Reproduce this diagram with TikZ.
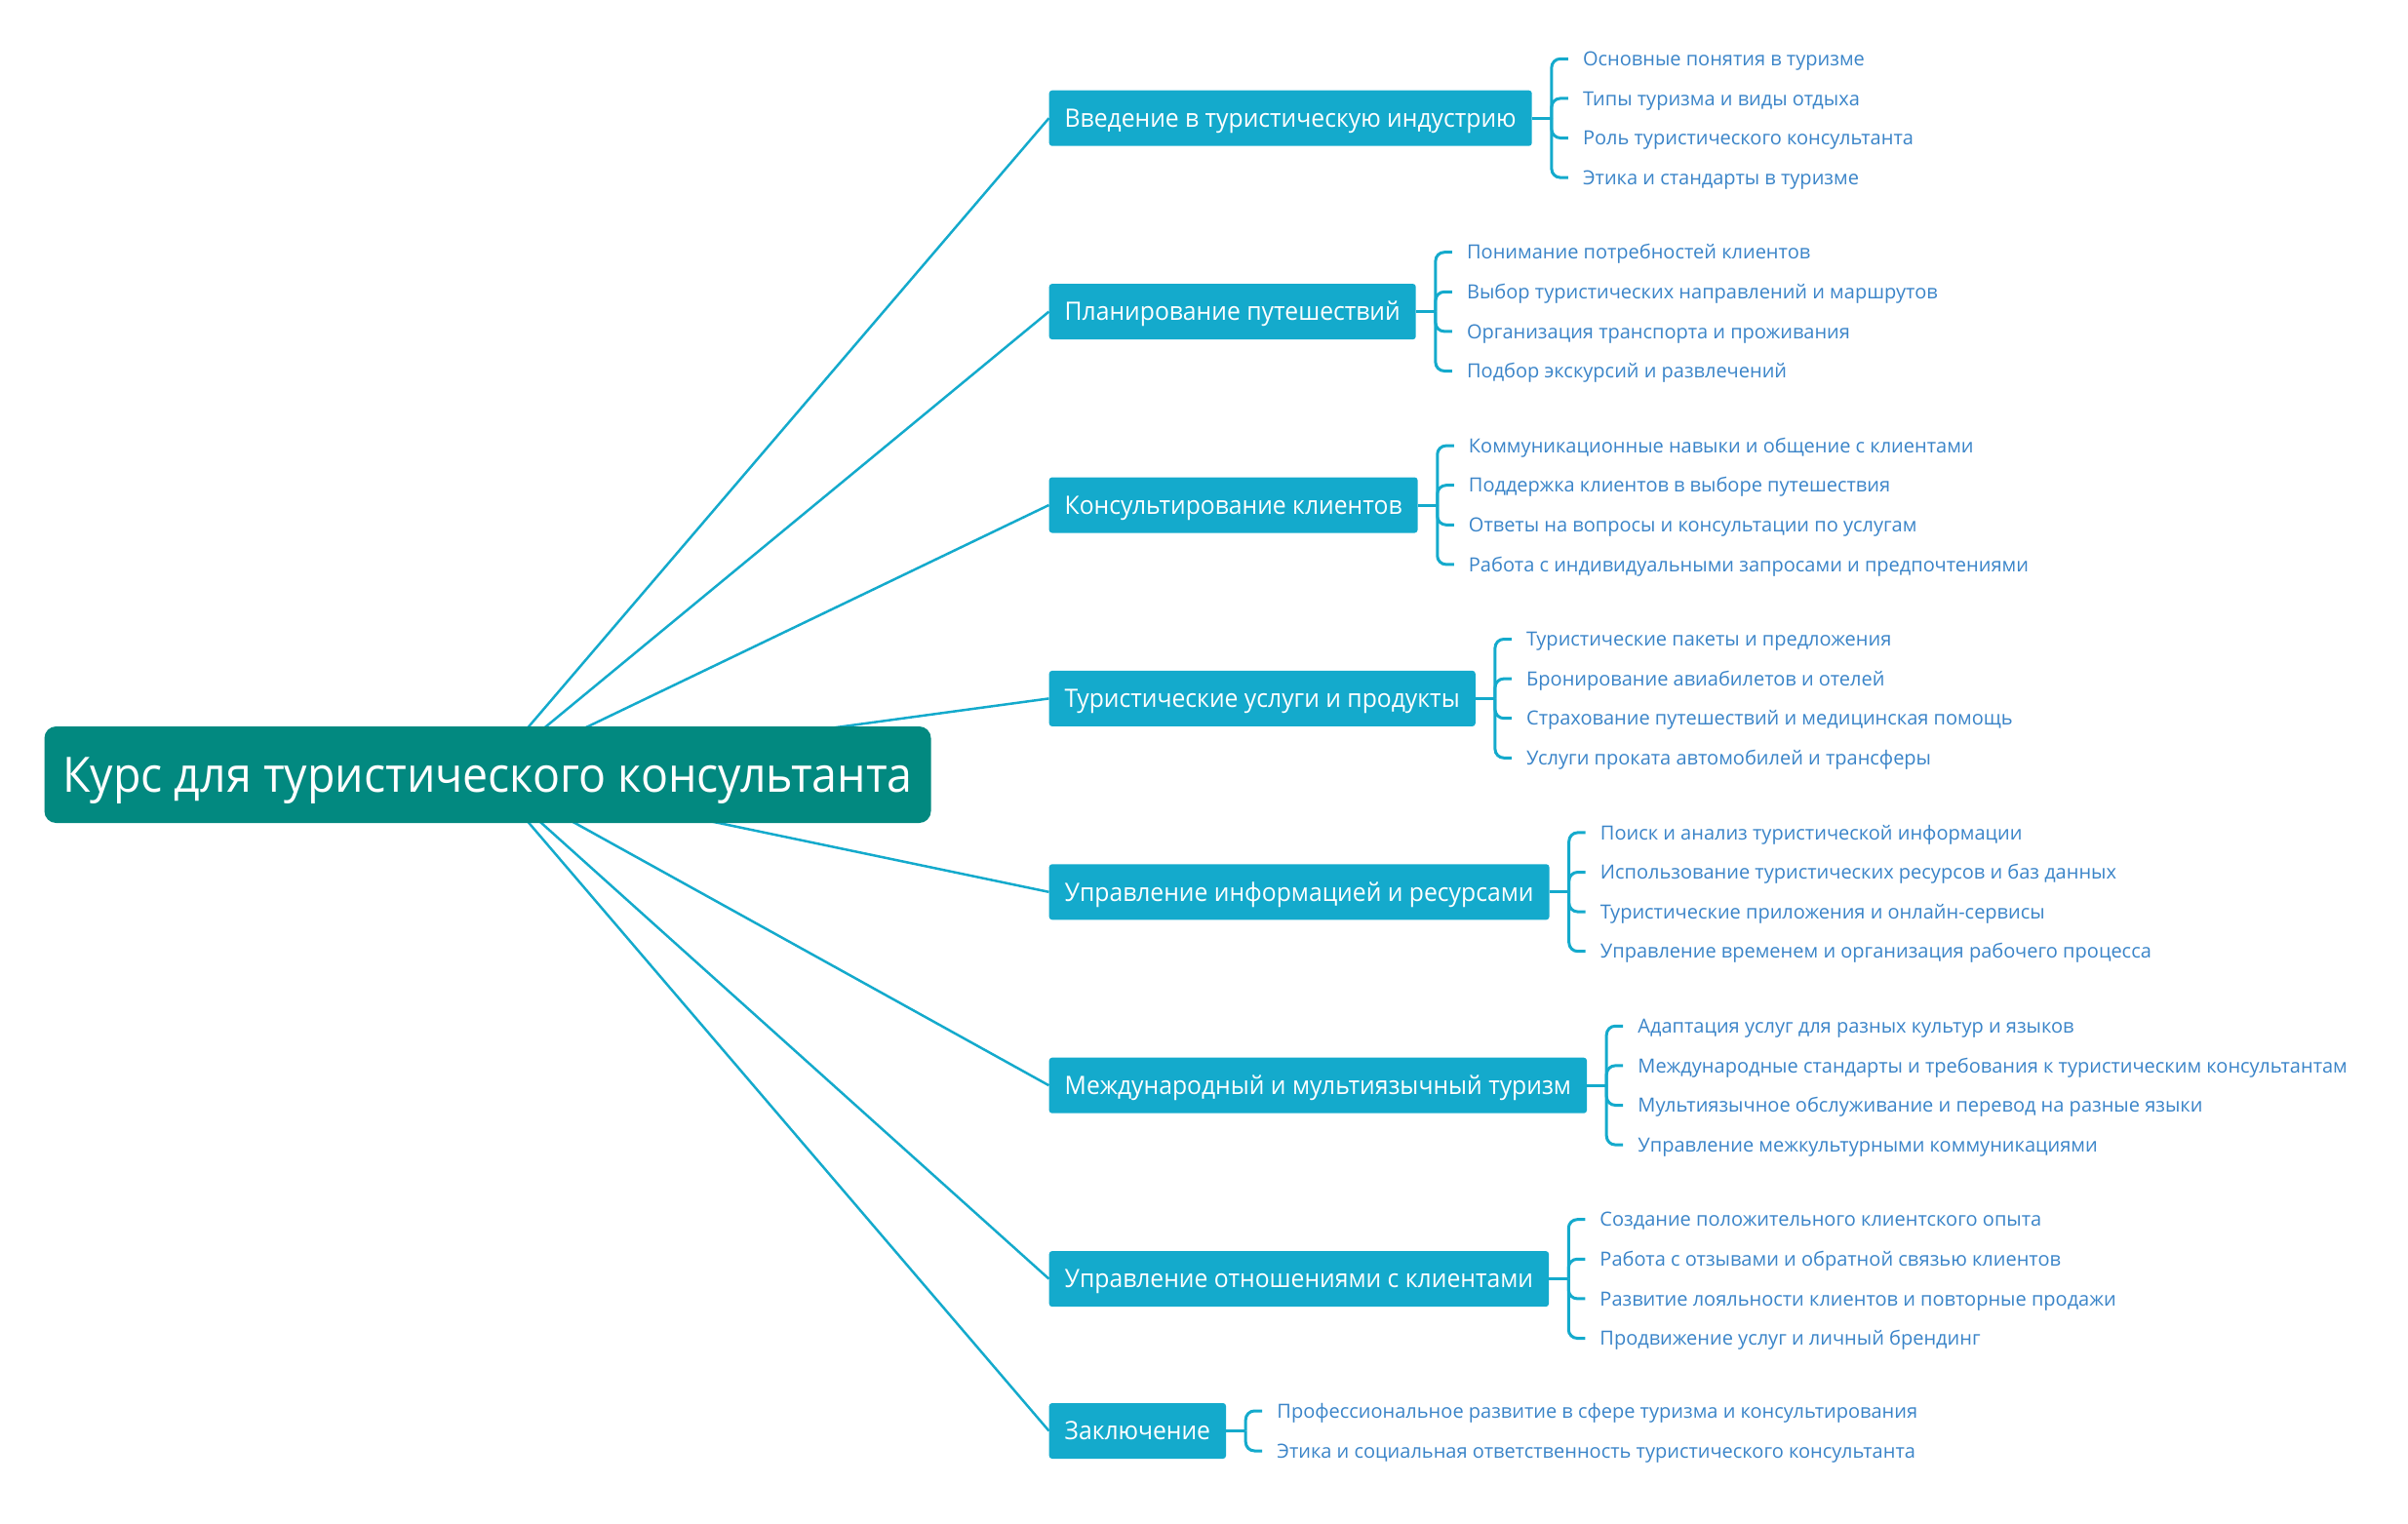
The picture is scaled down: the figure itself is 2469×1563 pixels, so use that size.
\documentclass[tikz,border=0pt]{standalone}
\usepackage{fontspec}
\setmainfont{Open Sans}
\newfontfamily\rootfont[FakeStretch=0.93]{Open Sans}
\newfontfamily\brfont[FakeStretch=0.95]{Open Sans}
\usetikzlibrary{backgrounds,calc}
\definecolor{rootc}{RGB}{2,137,128}
\definecolor{brc}{RGB}{20,170,204}
\definecolor{leafc}{RGB}{58,132,200}
\tikzset{
  rootbox/.style={fill=rootc, text=white, rounded corners=12pt, minimum width=909pt, minimum height=99pt, inner sep=0pt, font=\rootfont\fontsize{50}{60}\selectfont, text height=36pt, text depth=0pt},
  branchbox/.style={fill=brc, text=white, rounded corners=3pt, anchor=west, minimum height=57pt, inner xsep=16pt, inner ysep=0pt, font=\brfont\fontsize{26}{31}\selectfont, text height=18.5pt, text depth=0pt},
  leaftext/.style={text=leafc, anchor=west, inner sep=0pt, font=\fontsize{20}{24}\selectfont, text height=14.2pt, text depth=0pt},
  link/.style={draw=brc, line width=2.5pt},
  brk/.style={draw=brc, line width=3pt, rounded corners=9pt},
}
\begin{document}
\begin{tikzpicture}[x=1pt,y=-1pt]
\useasboundingbox (0,0) rectangle (2469,1563);
\node[rootbox] (root) at (500,794.5) {Курс для туристического консультанта};

\node[branchbox] (b1) at (1075.5,121.2) {Введение в туристическую индустрию};
\node[branchbox] (b2) at (1075.5,319.6) {Планирование путешествий};
\node[branchbox] (b3) at (1075.5,518.0) {Консультирование клиентов};
\node[branchbox] (b4) at (1075.5,716.4) {Туристические услуги и продукты};
\node[branchbox] (b5) at (1075.5,914.8) {Управление информацией и ресурсами};
\node[branchbox] (b6) at (1075.5,1113.2) {Международный и мультиязычный туризм};
\node[branchbox] (b7) at (1075.5,1311.6) {Управление отношениями с клиентами};
\node[branchbox] (b8) at (1075.5,1467.5) {Заключение};

\begin{scope}[on background layer]
\foreach \b in {b1,b2,b3,b4,b5,b6,b7,b8} {\draw[link] (root.center) -- (\b.west);}
\end{scope}

\foreach \b/\list in {
  b1/{Основные понятия в туризме,Типы туризма и виды отдыха,Роль туристического консультанта,Этика и стандарты в туризме},
  b2/{Понимание потребностей клиентов,Выбор туристических направлений и маршрутов,Организация транспорта и проживания,Подбор экскурсий и развлечений},
  b3/{Коммуникационные навыки и общение с клиентами,Поддержка клиентов в выборе путешествия,Ответы на вопросы и консультации по услугам,Работа с индивидуальными запросами и предпочтениями},
  b4/{Туристические пакеты и предложения,Бронирование авиабилетов и отелей,Страхование путешествий и медицинская помощь,Услуги проката автомобилей и трансферы},
  b5/{Поиск и анализ туристической информации,Использование туристических ресурсов и баз данных,Туристические приложения и онлайн-сервисы,Управление временем и организация рабочего процесса},
  b6/{Адаптация услуг для разных культур и языков,Международные стандарты и требования к туристическим консультантам,Мультиязычное обслуживание и перевод на разные языки,Управление межкультурными коммуникациями},
  b7/{Создание положительного клиентского опыта,Работа с отзывами и обратной связью клиентов,Развитие лояльности клиентов и повторные продажи,Продвижение услуг и личный брендинг}} {
  \coordinate (\b j) at ([xshift=20pt]\b.east);
  \draw[brk] (\b.east) -- (\b j);
  \foreach \t [count=\k] in \list {
    \node[leaftext] (\b l\k) at ([xshift=52pt,yshift={-(\k-2.5)*40.6pt}]\b.east) {\t};
    \draw[brk] (\b j) |- ([xshift=-15pt]\b l\k.west);
  }
}
\coordinate (b8j) at ([xshift=20pt]b8.east);
\draw[brk] (b8.east) -- (b8j);
\foreach \t [count=\k] in {Профессиональное развитие в сфере туризма и консультирования,Этика и социальная ответственность туристического консультанта} {
  \node[leaftext] (b8l\k) at ([xshift=52pt,yshift={-(\k-1.5)*41pt}]b8.east) {\t};
  \draw[brk] (b8j) |- ([xshift=-15pt]b8l\k.west);
}
\end{tikzpicture}
\end{document}
